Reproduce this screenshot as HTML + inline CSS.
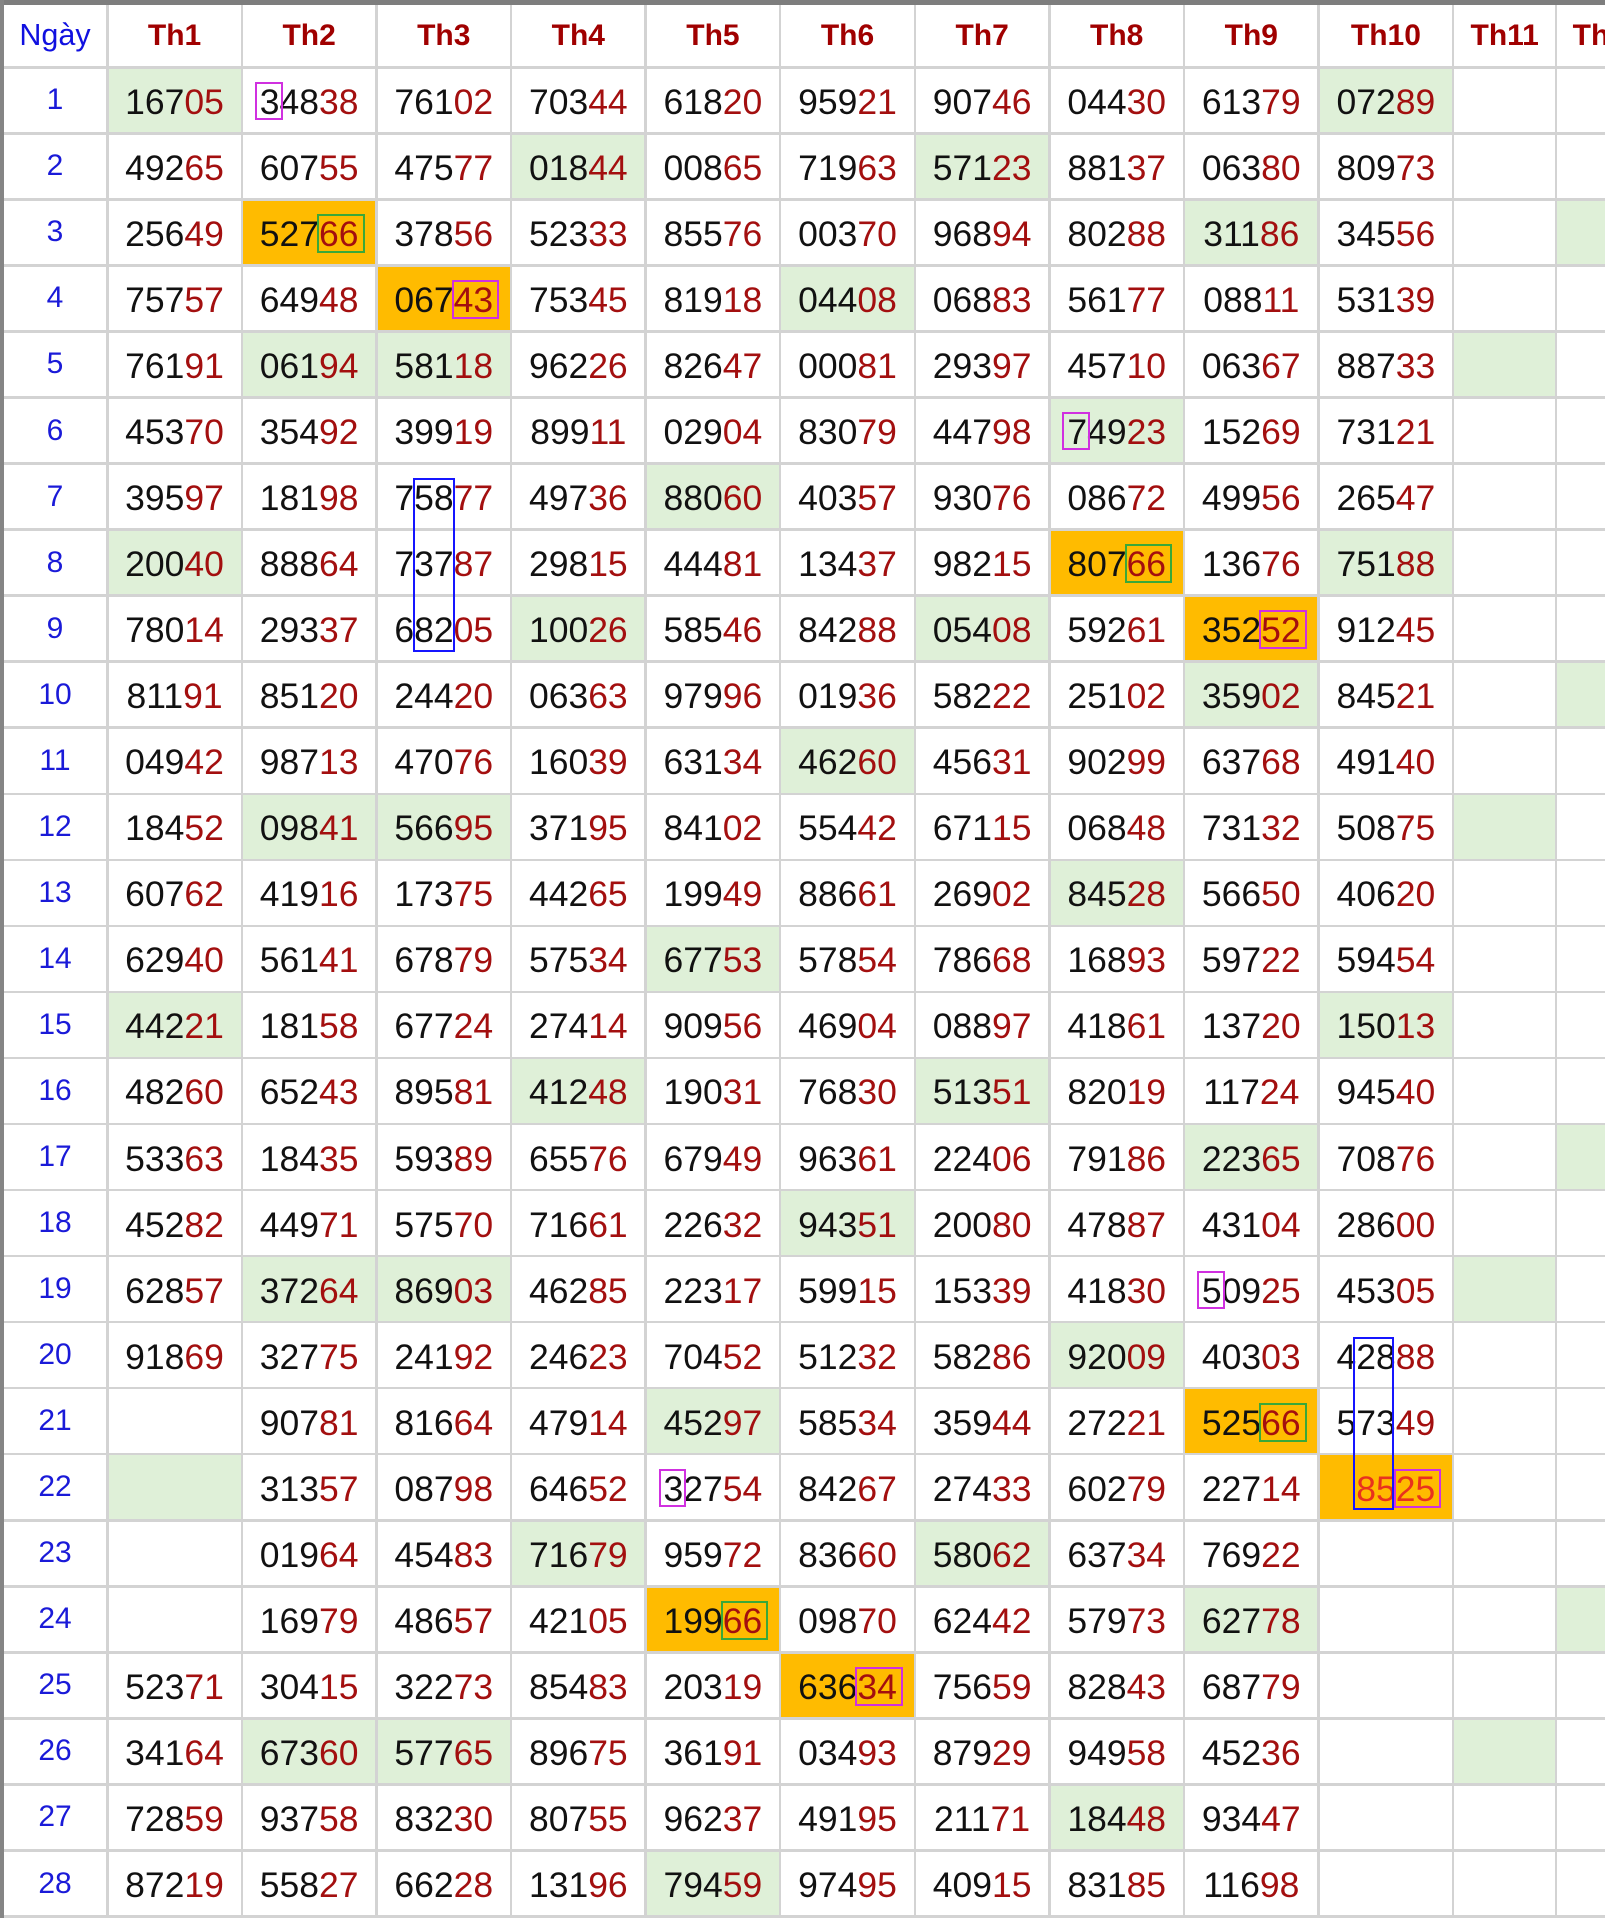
<!DOCTYPE html>
<html><head><meta charset="utf-8">
<style>
html,body{margin:0;padding:0;}
body{width:1605px;height:1918px;overflow:hidden;position:relative;background:#d3d3d3;font-family:"Liberation Sans",Arial,sans-serif;}
.tb{position:absolute;left:0;top:0;width:1605px;height:5px;background:#7d7d7d;}
.lb{position:absolute;left:0;top:0;width:4px;height:1918px;background:#858585;}
.grid{position:absolute;left:4px;top:5px;display:grid;grid-template-columns:102px repeat(10,132.1px) 100.5px 100.5px;grid-template-rows:61px repeat(28,63.56px);gap:2.5px;background:#d3d3d3;}
.grid>div{background:#fff;display:flex;align-items:center;justify-content:center;white-space:nowrap;}
.h{font-weight:bold;color:#a00000;font-size:30px;}
.n{color:#1010e0;font-size:30.5px;}
.d{color:#1a1ad8;font-size:30px;}
.c{font-size:35.5px;color:#111;padding-top:4px;box-sizing:border-box;}
.c b{font-weight:normal;color:#a30f0f;}
.grid>div.g{background:#dff0d8;}
.grid>div.o{background:#ffbb00;}
.m,.k,.m2{position:relative;}
.m::after{content:"";position:absolute;left:-5px;right:-3px;top:0;bottom:3px;border:2.5px solid #d030e0;}
.m2::after{content:"";position:absolute;left:-2px;right:-6px;top:0;bottom:2px;border:2.5px solid #d030e0;}
.k::after{content:"";position:absolute;left:-2px;right:-6px;top:0;bottom:2px;border:2.5px solid #3aa83a;}
.br{position:absolute;border:2.5px solid #1515ff;box-sizing:border-box;}
.rr{color:#e8321e !important;}
</style></head><body>
<div class="tb"></div><div class="lb"></div>
<div class="grid">
<div class="n">Ngày</div><div class="h">Th1</div><div class="h">Th2</div><div class="h">Th3</div><div class="h">Th4</div><div class="h">Th5</div><div class="h">Th6</div><div class="h">Th7</div><div class="h">Th8</div><div class="h">Th9</div><div class="h">Th10</div><div class="h">Th11</div><div class="h">Th12</div>

<div class="d">1</div><div class="c g">167<b>05</b></div><div class="c"><span class="m">3</span>48<b>38</b></div><div class="c">761<b>02</b></div><div class="c">703<b>44</b></div><div class="c">618<b>20</b></div><div class="c">959<b>21</b></div><div class="c">907<b>46</b></div><div class="c">044<b>30</b></div><div class="c">613<b>79</b></div><div class="c g">072<b>89</b></div><div></div><div></div>

<div class="d">2</div><div class="c">492<b>65</b></div><div class="c">607<b>55</b></div><div class="c">475<b>77</b></div><div class="c g">018<b>44</b></div><div class="c">008<b>65</b></div><div class="c">719<b>63</b></div><div class="c g">571<b>23</b></div><div class="c">881<b>37</b></div><div class="c">063<b>80</b></div><div class="c">809<b>73</b></div><div></div><div></div>

<div class="d">3</div><div class="c">256<b>49</b></div><div class="c o">527<b class="k">66</b></div><div class="c">378<b>56</b></div><div class="c">523<b>33</b></div><div class="c">855<b>76</b></div><div class="c">003<b>70</b></div><div class="c">968<b>94</b></div><div class="c">802<b>88</b></div><div class="c g">311<b>86</b></div><div class="c">345<b>56</b></div><div></div><div class="g"></div>

<div class="d">4</div><div class="c">757<b>57</b></div><div class="c">649<b>48</b></div><div class="c o">067<b class="m2">43</b></div><div class="c">753<b>45</b></div><div class="c">819<b>18</b></div><div class="c g">044<b>08</b></div><div class="c">068<b>83</b></div><div class="c">561<b>77</b></div><div class="c">088<b>11</b></div><div class="c">531<b>39</b></div><div></div><div></div>

<div class="d">5</div><div class="c">761<b>91</b></div><div class="c g">061<b>94</b></div><div class="c g">581<b>18</b></div><div class="c">962<b>26</b></div><div class="c">826<b>47</b></div><div class="c">000<b>81</b></div><div class="c">293<b>97</b></div><div class="c">457<b>10</b></div><div class="c">063<b>67</b></div><div class="c">887<b>33</b></div><div class="g"></div><div></div>

<div class="d">6</div><div class="c">453<b>70</b></div><div class="c">354<b>92</b></div><div class="c">399<b>19</b></div><div class="c">899<b>11</b></div><div class="c">029<b>04</b></div><div class="c">830<b>79</b></div><div class="c">447<b>98</b></div><div class="c g"><span class="m">7</span>49<b>23</b></div><div class="c">152<b>69</b></div><div class="c">731<b>21</b></div><div></div><div></div>

<div class="d">7</div><div class="c">395<b>97</b></div><div class="c">181<b>98</b></div><div class="c">758<b>77</b></div><div class="c">497<b>36</b></div><div class="c g">880<b>60</b></div><div class="c">403<b>57</b></div><div class="c">930<b>76</b></div><div class="c">086<b>72</b></div><div class="c">499<b>56</b></div><div class="c">265<b>47</b></div><div></div><div></div>

<div class="d">8</div><div class="c g">200<b>40</b></div><div class="c">888<b>64</b></div><div class="c">737<b>87</b></div><div class="c">298<b>15</b></div><div class="c">444<b>81</b></div><div class="c">134<b>37</b></div><div class="c">982<b>15</b></div><div class="c o">807<b class="k">66</b></div><div class="c">136<b>76</b></div><div class="c g">751<b>88</b></div><div></div><div></div>

<div class="d">9</div><div class="c">780<b>14</b></div><div class="c">293<b>37</b></div><div class="c">682<b>05</b></div><div class="c g">100<b>26</b></div><div class="c">585<b>46</b></div><div class="c">842<b>88</b></div><div class="c g">054<b>08</b></div><div class="c">592<b>61</b></div><div class="c o">352<b class="m2">52</b></div><div class="c">912<b>45</b></div><div></div><div></div>

<div class="d">10</div><div class="c">811<b>91</b></div><div class="c">851<b>20</b></div><div class="c">244<b>20</b></div><div class="c">063<b>63</b></div><div class="c">979<b>96</b></div><div class="c">019<b>36</b></div><div class="c">582<b>22</b></div><div class="c">251<b>02</b></div><div class="c g">359<b>02</b></div><div class="c">845<b>21</b></div><div></div><div class="g"></div>

<div class="d">11</div><div class="c">049<b>42</b></div><div class="c">987<b>13</b></div><div class="c">470<b>76</b></div><div class="c">160<b>39</b></div><div class="c">631<b>34</b></div><div class="c g">462<b>60</b></div><div class="c">456<b>31</b></div><div class="c">902<b>99</b></div><div class="c">637<b>68</b></div><div class="c">491<b>40</b></div><div></div><div></div>

<div class="d">12</div><div class="c">184<b>52</b></div><div class="c g">098<b>41</b></div><div class="c g">566<b>95</b></div><div class="c">371<b>95</b></div><div class="c">841<b>02</b></div><div class="c">554<b>42</b></div><div class="c">671<b>15</b></div><div class="c">068<b>48</b></div><div class="c">731<b>32</b></div><div class="c">508<b>75</b></div><div class="g"></div><div></div>

<div class="d">13</div><div class="c">607<b>62</b></div><div class="c">419<b>16</b></div><div class="c">173<b>75</b></div><div class="c">442<b>65</b></div><div class="c">199<b>49</b></div><div class="c">886<b>61</b></div><div class="c">269<b>02</b></div><div class="c g">845<b>28</b></div><div class="c">566<b>50</b></div><div class="c">406<b>20</b></div><div></div><div></div>

<div class="d">14</div><div class="c">629<b>40</b></div><div class="c">561<b>41</b></div><div class="c">678<b>79</b></div><div class="c">575<b>34</b></div><div class="c g">677<b>53</b></div><div class="c">578<b>54</b></div><div class="c">786<b>68</b></div><div class="c">168<b>93</b></div><div class="c">597<b>22</b></div><div class="c">594<b>54</b></div><div></div><div></div>

<div class="d">15</div><div class="c g">442<b>21</b></div><div class="c">181<b>58</b></div><div class="c">677<b>24</b></div><div class="c">274<b>14</b></div><div class="c">909<b>56</b></div><div class="c">469<b>04</b></div><div class="c">088<b>97</b></div><div class="c">418<b>61</b></div><div class="c">137<b>20</b></div><div class="c g">150<b>13</b></div><div></div><div></div>

<div class="d">16</div><div class="c">482<b>60</b></div><div class="c">652<b>43</b></div><div class="c">895<b>81</b></div><div class="c g">412<b>48</b></div><div class="c">190<b>31</b></div><div class="c">768<b>30</b></div><div class="c g">513<b>51</b></div><div class="c">820<b>19</b></div><div class="c">117<b>24</b></div><div class="c">945<b>40</b></div><div></div><div></div>

<div class="d">17</div><div class="c">533<b>63</b></div><div class="c">184<b>35</b></div><div class="c">593<b>89</b></div><div class="c">655<b>76</b></div><div class="c">679<b>49</b></div><div class="c">963<b>61</b></div><div class="c">224<b>06</b></div><div class="c">791<b>86</b></div><div class="c g">223<b>65</b></div><div class="c">708<b>76</b></div><div></div><div class="g"></div>

<div class="d">18</div><div class="c">452<b>82</b></div><div class="c">449<b>71</b></div><div class="c">575<b>70</b></div><div class="c">716<b>61</b></div><div class="c">226<b>32</b></div><div class="c g">943<b>51</b></div><div class="c">200<b>80</b></div><div class="c">478<b>87</b></div><div class="c">431<b>04</b></div><div class="c">286<b>00</b></div><div></div><div></div>

<div class="d">19</div><div class="c">628<b>57</b></div><div class="c g">372<b>64</b></div><div class="c g">869<b>03</b></div><div class="c">462<b>85</b></div><div class="c">223<b>17</b></div><div class="c">599<b>15</b></div><div class="c">153<b>39</b></div><div class="c">418<b>30</b></div><div class="c"><span class="m">5</span>09<b>25</b></div><div class="c">453<b>05</b></div><div class="g"></div><div></div>

<div class="d">20</div><div class="c">918<b>69</b></div><div class="c">327<b>75</b></div><div class="c">241<b>92</b></div><div class="c">246<b>23</b></div><div class="c">704<b>52</b></div><div class="c">512<b>32</b></div><div class="c">582<b>86</b></div><div class="c g">920<b>09</b></div><div class="c">403<b>03</b></div><div class="c">428<b>88</b></div><div></div><div></div>

<div class="d">21</div><div class="c"></div><div class="c">907<b>81</b></div><div class="c">816<b>64</b></div><div class="c">479<b>14</b></div><div class="c g">452<b>97</b></div><div class="c">585<b>34</b></div><div class="c">359<b>44</b></div><div class="c">272<b>21</b></div><div class="c o">525<b class="k">66</b></div><div class="c">573<b>49</b></div><div></div><div></div>

<div class="d">22</div><div class="c g"></div><div class="c">313<b>57</b></div><div class="c">087<b>98</b></div><div class="c">646<b>52</b></div><div class="c"><span class="m">3</span>27<b>54</b></div><div class="c">842<b>67</b></div><div class="c">274<b>33</b></div><div class="c">602<b>79</b></div><div class="c">227<b>14</b></div><div class="c o"><span style="visibility:hidden">0</span><span class="rr">85</span><b class="m2 rr">25</b></div><div></div><div></div>

<div class="d">23</div><div class="c"></div><div class="c">019<b>64</b></div><div class="c">454<b>83</b></div><div class="c g">716<b>79</b></div><div class="c">959<b>72</b></div><div class="c">836<b>60</b></div><div class="c g">580<b>62</b></div><div class="c">637<b>34</b></div><div class="c">769<b>22</b></div><div class="c"></div><div></div><div></div>

<div class="d">24</div><div class="c"></div><div class="c">169<b>79</b></div><div class="c">486<b>57</b></div><div class="c">421<b>05</b></div><div class="c o">199<b class="k">66</b></div><div class="c">098<b>70</b></div><div class="c">624<b>42</b></div><div class="c">579<b>73</b></div><div class="c g">627<b>78</b></div><div class="c"></div><div></div><div class="g"></div>

<div class="d">25</div><div class="c">523<b>71</b></div><div class="c">304<b>15</b></div><div class="c">322<b>73</b></div><div class="c">854<b>83</b></div><div class="c">203<b>19</b></div><div class="c o">636<b class="m2">34</b></div><div class="c">756<b>59</b></div><div class="c">828<b>43</b></div><div class="c">687<b>79</b></div><div class="c"></div><div></div><div></div>

<div class="d">26</div><div class="c">341<b>64</b></div><div class="c g">673<b>60</b></div><div class="c g">577<b>65</b></div><div class="c">896<b>75</b></div><div class="c">361<b>91</b></div><div class="c">034<b>93</b></div><div class="c">879<b>29</b></div><div class="c">949<b>58</b></div><div class="c">452<b>36</b></div><div class="c"></div><div class="g"></div><div></div>

<div class="d">27</div><div class="c">728<b>59</b></div><div class="c">937<b>58</b></div><div class="c">832<b>30</b></div><div class="c">807<b>55</b></div><div class="c">962<b>37</b></div><div class="c">491<b>95</b></div><div class="c">211<b>71</b></div><div class="c g">184<b>48</b></div><div class="c">934<b>47</b></div><div class="c"></div><div></div><div></div>

<div class="d">28</div><div class="c">872<b>19</b></div><div class="c">558<b>27</b></div><div class="c">662<b>28</b></div><div class="c">131<b>96</b></div><div class="c g">794<b>59</b></div><div class="c">974<b>95</b></div><div class="c">409<b>15</b></div><div class="c">831<b>85</b></div><div class="c">116<b>98</b></div><div class="c"></div><div></div><div></div>
</div>
<div class="br" style="left:412.7px;top:478px;width:42.5px;height:174px;"></div>
<div class="br" style="left:1352.7px;top:1337.4px;width:41.5px;height:173px;"></div>
</body></html>
